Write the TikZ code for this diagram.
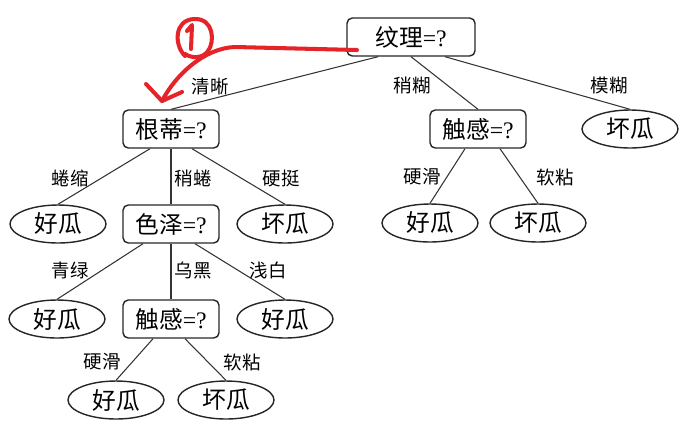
\documentclass[tikz,border=0pt]{standalone}
\usepackage{fontspec}
\newfontfamily\cjk{Noto Sans CJK SC}
\newfontfamily\qmark{Liberation Serif}
\usetikzlibrary{shapes.geometric}
\definecolor{inkred}{HTML}{E5242A}
\newcommand{\goodmelon}{{\cjk 好瓜}}
\newcommand{\badmelon}{{\cjk 坏瓜}}
\newcommand{\ask}[1]{{\cjk #1}{\qmark =?}}
\tikzset{
  testbox/.style   = {rectangle, rounded corners=3pt, draw=black!85, line width=0.8pt,
                      minimum width=1.92cm, minimum height=0.76cm, inner sep=0pt,
                      font=\fontsize{13.5}{16}\selectfont},
  leafnode/.style  = {ellipse, draw=black!85, line width=0.8pt,
                      minimum width=1.92cm, minimum height=0.76cm, inner sep=0pt,
                      font=\fontsize{13.5}{16}\selectfont},
  branchlab/.style = {font=\cjk\fontsize{10.5}{12}\selectfont, inner sep=1pt},
  branch/.style    = {line width=0.6pt, draw=black!80},
  handmark/.style  = {line width=2.3pt, draw=inkred, line cap=round, line join=round},
}

\begin{document}
\begin{tikzpicture}[x=0.02cm, y=-0.02cm]
\useasboundingbox (0,0) rectangle (685,427);

% =============== ROOT ===============
\node (root) [testbox, minimum width=2.56cm] at (411,37) {\ask{纹理}};

% =============== LEVEL 1 ===============
\node (gendi)  [testbox]  at (171,129) {\ask{根蒂}};
\node (chuR)   [testbox]  at (478,129) {\ask{触感}};
\node (badA)   [leafnode] at (630,129) {\badmelon};

\draw[branch] ([xshift=-0.66cm]root.south) -- (gendi.north);
\draw[branch] (root.south) -- (chuR.north);
\draw[branch] ([xshift=0.68cm]root.south) -- (badA.north);

\node (l1) [branchlab] at (210,86) {清晰};
\node (l2) [branchlab] at (412,86) {稍糊};
\node (l3) [branchlab] at (609,86) {模糊};

% =============== LEVEL 2 ===============
\node (goodA) [leafnode] at (58,224)  {\goodmelon};
\node (sez)   [testbox]  at (171,224) {\ask{色泽}};
\node (badB)  [leafnode] at (285,224) {\badmelon};
\node (goodB) [leafnode] at (430,223) {\goodmelon};
\node (badC)  [leafnode] at (538,223) {\badmelon};

\draw[branch] ([xshift=-0.42cm]gendi.south) -- (goodA.north);
\draw[branch] (gendi.south) -- (sez.north);
\draw[branch] ([xshift=0.42cm]gendi.south) -- (badB.north);
\draw[branch] ([xshift=-0.26cm]chuR.south) -- (goodB.north);
\draw[branch] ([xshift=0.44cm]chuR.south) -- (badC.north);

\node (l4) [branchlab] at (70,178)  {蜷缩};
\node (l5) [branchlab] at (193,178) {稍蜷};
\node (l6) [branchlab] at (281,178) {硬挺};
\node (l7) [branchlab] at (422,177) {硬滑};
\node (l8) [branchlab] at (555,177) {软粘};

% =============== LEVEL 3 ===============
\node (goodC) [leafnode] at (57,319)  {\goodmelon};
\node (chuL)  [testbox]  at (171,319) {\ask{触感}};
\node (goodD) [leafnode] at (285,319) {\goodmelon};

\draw[branch] ([xshift=-0.56cm]sez.south) -- (goodC.north);
\draw[branch] (sez.south) -- (chuL.north);
\draw[branch] ([xshift=0.48cm]sez.south) -- (goodD.north);

\node (l9)  [branchlab] at (70,270)  {青绿};
\node (l10) [branchlab] at (193,270) {乌黑};
\node (l11) [branchlab] at (268,270) {浅白};

% =============== LEVEL 4 ===============
\node (goodE) [leafnode] at (116,400) {\goodmelon};
\node (badD)  [leafnode] at (226,400) {\badmelon};

\draw[branch] ([xshift=-0.36cm]chuL.south) -- (goodE.north);
\draw[branch] ([xshift=0.28cm]chuL.south) -- (badD.north);

\node (l12) [branchlab] at (102,362) {硬滑};
\node (l13) [branchlab] at (242,362) {软粘};

% =============== HAND MARK ===============
\coordinate (tip) at (162,101);
\draw[handmark] (357,50) -- (235,47) .. controls (205,48) and (176,74) .. (tip);
\draw[handmark] (146,84) -- (tip) -- (182,92);
\draw[handmark] (187,31) -- (192,25) -- (191,49);
\draw[handmark] (185,56) .. controls (174,45) and (174,20) .. (194,19)
  .. controls (214,18) and (215,42) .. (208,51) .. controls (203,58) and (193,59) .. (185,54);

\end{tikzpicture}
\end{document}
